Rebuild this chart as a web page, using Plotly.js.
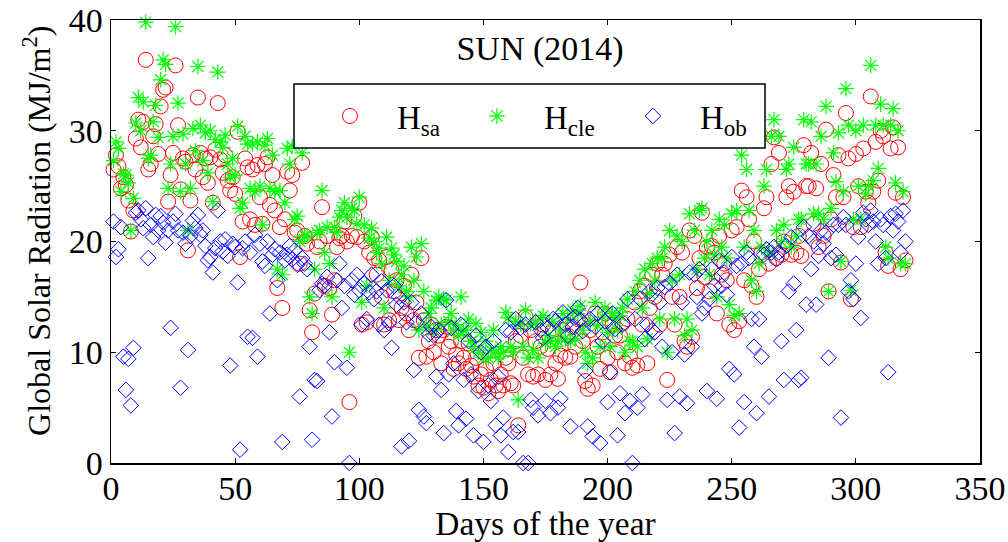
<!DOCTYPE html>
<html>
<head>
<meta charset="utf-8">
<script src="https://cdn.plot.ly/plotly-3.0.1.min.js"></script>
<style>html,body{margin:0;padding:0;background:#fff;}#chart{width:1008px;height:542px;}</style>
</head>
<body>
<div id="chart"></div>
<script>
var days = [1,2,3,4,5,6,7,8,9,10,11,12,13,14,15,16,17,18,19,20,21,22,23,24,25,26,27,28,29,30,31,32,33,34,35,36,37,38,39,40,41,42,43,44,45,46,47,48,49,50,51,52,53,54,55,56,57,58,59,60,61,62,63,64,65,66,67,68,69,70,71,72,73,74,75,76,77,78,79,80,81,82,83,84,85,86,87,88,89,90,91,92,93,94,95,96,97,98,99,100,101,102,103,104,105,106,107,108,109,110,111,112,113,114,115,116,117,118,119,120,121,122,123,124,125,126,127,128,129,130,131,132,133,134,135,136,137,138,139,140,141,142,143,144,145,146,147,148,149,150,151,152,153,154,155,156,157,158,159,160,161,162,163,164,165,166,167,168,169,170,171,172,173,174,175,176,177,178,179,180,181,182,183,184,185,186,187,188,189,190,191,192,193,194,195,196,197,198,199,200,201,202,203,204,205,206,207,208,209,210,211,212,213,214,215,216,217,218,219,220,221,222,223,224,225,226,227,228,229,230,231,232,233,234,235,236,237,238,239,240,241,242,243,244,245,246,247,248,249,250,251,252,253,254,255,256,257,258,259,260,261,262,263,264,265,266,267,268,269,270,271,272,273,274,275,276,277,278,279,280,281,282,283,284,285,286,287,288,289,290,291,292,293,294,295,296,297,298,299,300,301,302,303,304,305,306,307,308,309,310,311,312,313,314,315,316,317,318,319,320];

var H_sa = [26.5,27.8,26.8,24.8,25.8,25.1,23.7,20.9,22.8,29.3,
31.0,28.5,30.8,36.4,26.5,27.0,29.5,30.6,27.9,32.2,
33.7,33.9,23.6,26.0,28.0,35.9,30.5,24.7,27.5,27.2,
19.2,23.7,27.8,26.5,33.0,28.0,25.8,27.5,25.3,27.6,
23.5,28.3,32.5,27.4,26.2,27.8,25.5,24.6,25.8,24.3,
29.9,18.6,21.8,27.5,26.7,22.0,26.5,21.5,26.9,24.0,
21.6,27.0,27.6,23.3,26.0,22.8,15.8,21.3,14.0,22.0,
26.3,24.6,26.0,20.8,21.0,18.0,27.1,20.5,19.8,13.8,
11.8,15.3,19.5,20.0,23.1,16.0,20.5,15.8,13.4,16.5,
19.5,20.3,20.5,21.8,20.0,5.5,20.5,22.3,20.4,23.5,
12.5,20.0,12.7,19.0,20.4,18.5,17.0,18.3,15.0,12.5,
18.6,12.9,17.4,15.5,16.5,12.9,14.0,16.0,13.5,12.0,
17.0,12.9,14.5,9.5,18.5,12.9,9.6,11.0,12.5,10.0,
12.0,11.5,9.0,12.0,12.3,10.5,11.0,8.5,9.8,9.0,
11.0,9.5,8.5,10.8,8.8,7.8,9.5,7.0,8.0,6.8,
8.5,6.3,7.5,9.0,7.0,6.5,8.0,7.0,9.5,9.0,
7.2,7.0,11.0,3.4,11.5,9.5,13.2,8.0,12.0,7.8,
11.0,8.0,10.5,12.5,7.5,10.3,8.0,12.0,9.0,7.6,
9.7,12.0,9.5,11.5,9.6,12.3,10.5,13.0,16.3,11.0,
7.4,6.7,12.0,7.0,13.5,10.5,8.5,11.8,13.5,9.5,
8.2,12.5,11.5,10.0,11.5,12.6,9.0,13.0,9.6,8.6,
14.5,8.8,15.5,12.5,16.0,9.0,14.0,17.0,15.0,18.0,
12.5,17.0,18.0,7.5,18.8,15.0,12.5,19.5,15.0,19.0,
11.0,10.5,21.0,11.4,20.5,15.8,18.5,22.6,16.8,19.5,
15.5,19.6,19.0,13.5,20.5,17.0,18.0,16.5,12.5,21.0,
12.0,21.3,12.8,24.6,16.5,24.0,22.0,16.0,20.0,15.0,
17.5,19.0,23.0,24.0,18.0,27.0,29.4,18.5,28.0,18.8,
20.0,24.0,25.0,18.8,24.5,19.0,20.5,18.7,28.7,25.0,
25.0,28.0,21.6,24.8,19.5,27.0,20.5,30.1,15.5,22.0,
26.0,24.0,27.8,18.1,24.0,31.6,27.5,14.8,21.3,27.9,
25.0,21.3,28.4,24.5,23.5,33.1,24.5,29.0,25.5,30.0,
29.5,19.0,17.8,28.4,30.3,24.4,28.5,17.5,24.0,18.3];

var H_cle = [27.3,29.0,28.4,24.5,26.1,26.0,25.3,21.0,23.9,30.7,
33.0,30.0,32.6,39.8,27.5,27.8,30.8,32.3,29.4,34.6,
36.4,36.0,24.8,27.0,29.5,39.4,32.5,24.5,29.7,27.0,
21.0,24.8,30.2,28.2,35.8,30.5,27.3,29.8,26.2,30.0,
23.6,29.2,35.3,29.0,28.5,29.6,27.0,25.8,27.5,26.0,
30.4,23.0,23.5,29.5,28.8,24.8,28.8,24.5,29.0,25.0,
21.5,28.7,29.3,24.8,27.8,24.5,17.5,24.6,17.0,23.5,
28.4,27.0,28.6,22.0,22.3,20.0,28.0,20.5,20.5,15.0,
13.5,17.5,20.8,21.0,24.6,19.0,21.3,18.0,15.0,21.3,
20.8,22.2,22.8,23.5,22.2,10.0,23.0,22.8,21.6,24.0,
14.5,21.5,16.0,20.3,21.2,20.0,19.0,19.4,18.0,14.0,
20.4,16.5,19.4,18.8,18.2,16.0,17.0,17.8,15.5,15.0,
19.5,16.5,18.6,12.0,19.8,15.5,12.5,13.5,14.0,12.0,
14.7,15.0,12.5,14.8,14.7,12.8,13.5,12.0,12.5,11.5,
15.0,12.0,12.0,13.0,11.0,10.5,12.6,10.0,11.8,9.5,
11.0,9.5,10.2,12.0,10.0,9.5,10.5,10.0,13.6,13.1,
10.5,10.0,12.8,5.7,12.5,10.5,13.8,9.5,12.5,10.2,
12.6,9.5,13.0,13.3,10.8,11.5,11.0,12.8,10.5,11.0,
12.0,13.5,11.2,13.0,11.0,13.8,11.2,13.5,14.2,12.0,
10.0,9.0,12.8,9.5,14.5,12.4,10.5,13.2,14.0,11.8,
10.5,13.5,13.0,12.0,13.3,14.0,10.0,14.8,11.0,11.0,
15.5,10.5,16.5,14.0,17.5,11.2,15.3,18.0,16.5,18.5,
13.0,18.5,19.5,10.0,21.0,16.5,13.0,20.5,17.0,20.0,
11.5,13.0,22.5,12.0,21.0,17.5,22.8,23.0,18.5,20.0,
17.0,21.0,18.8,15.0,22.0,19.5,21.5,18.5,14.3,22.5,
13.3,22.8,13.5,27.8,19.5,26.5,22.8,16.5,21.0,15.5,
18.0,19.5,25.0,26.5,19.0,29.5,31.0,21.0,29.5,20.0,
21.5,26.5,27.0,19.5,28.5,20.5,22.0,22.0,31.0,27.0,
27.0,30.8,22.5,27.0,22.5,29.5,22.0,32.2,15.5,23.0,
28.0,25.4,29.8,18.2,24.5,33.8,30.5,15.6,22.0,30.0,
25.0,22.0,30.5,24.3,25.0,35.9,25.5,30.5,26.6,32.4,
30.5,19.5,18.5,30.5,32.0,25.3,30.0,18.0,24.5,18.0];

var H_ob = [21.8,18.6,19.3,21.3,9.6,6.6,9.4,5.2,10.4,22.6,
22.8,22.0,21.2,23.0,18.5,21.5,20.4,22.4,21.0,22.3,
21.7,19.9,21.0,12.2,21.8,22.5,21.0,6.8,20.8,19.8,
10.2,20.5,21.9,21.2,22.4,20.6,21.0,19.6,18.3,18.6,
17.2,19.4,22.8,20.0,19.1,20.2,18.7,8.8,19.8,19.5,
16.3,1.2,19.4,20.0,11.4,19.0,11.3,20.6,9.6,19.8,
18.2,17.8,20.0,13.5,18.8,19.3,16.5,19.0,1.9,18.3,
18.8,19.6,18.4,19.2,17.9,6.0,18.5,18.0,17.5,10.5,
2.1,7.5,7.4,15.6,16.2,16.0,16.8,11.8,4.2,9.1,
16.5,18.0,14.0,16.0,8.6,0.0,16.5,15.2,17.0,15.6,
12.5,16.2,13.0,15.4,17.0,14.8,15.5,12.5,16.4,12.0,
15.6,12.6,10.4,16.0,14.3,15.0,1.5,14.5,12.7,2.0,
14.5,8.4,12.7,4.8,13.5,4.2,3.6,11.6,12.3,11.5,
7.8,12.0,6.6,2.7,14.7,8.0,12.2,9.0,4.7,3.4,
12.5,7.5,4.0,11.0,8.0,2.5,11.5,6.5,10.0,1.9,
10.5,7.0,5.6,11.0,3.4,7.8,2.5,4.1,12.0,1.0,
11.8,2.8,13.0,2.8,12.2,0.0,12.5,0.0,5.7,5.0,
12.7,4.3,12.0,11.3,5.6,12.2,4.5,13.0,12.8,5.0,
5.8,13.6,12.5,11.5,3.3,12.3,13.2,14.0,12.9,11.9,
8.3,3.3,13.0,2.4,12.3,13.5,1.8,11.0,12.8,5.5,
8.2,13.5,12.1,2.5,6.3,12.5,4.5,14.8,5.6,0.0,
13.0,5.0,14.8,6.2,11.2,12.5,15.5,12.0,11.8,15.8,
14.5,10.5,15.9,5.7,16.2,10.0,2.7,17.0,6.0,14.5,
9.8,5.4,17.2,10.5,17.0,15.0,17.5,13.5,14.0,6.5,
14.8,17.5,16.0,5.8,18.3,16.0,17.2,15.2,8.5,18.6,
8.0,17.8,3.2,18.0,5.5,19.0,18.5,13.0,10.5,4.5,
13.0,9.6,18.8,19.3,6.0,19.0,19.5,18.4,19.0,11.0,
7.5,19.6,15.5,20.4,16.2,12.0,7.5,7.7,21.3,14.3,
20.5,17.5,20.0,14.3,18.7,21.0,19.8,20.8,9.5,18.5,
21.5,18.8,21.5,4.1,22.2,21.5,15.5,16.5,14.8,18.0,
20.4,13.1,22.6,22.0,21.5,22.8,21.8,20.0,18.0,22.0,
21.5,18.5,8.2,22.3,21.0,22.5,21.8,19.0,22.8,20.0];

var seriesNames = ['H<sub>sa</sub>', 'H<sub>cle</sub>', 'H<sub>ob</sub>'];
var titleText = 'SUN (2014)';
var xTitle = 'Days of the year';
var yTitle = 'Global Solar Radiation (MJ/m<sup>2</sup>)';

var FONT = '"Liberation Serif", "Times New Roman", Times, serif';

var traces = [
  {x: days, y: H_sa, name: seriesNames[0], type: 'scatter', mode: 'markers', cliponaxis: false, legendwidth: 48,
   marker: {symbol: 'circle-open', size: 15, color: '#ff0000', line: {width: 1, color: '#ff0000'}}},
  {x: days, y: H_cle, name: seriesNames[1], type: 'scatter', mode: 'markers', cliponaxis: false, legendwidth: 57,
   marker: {symbol: 'asterisk-open', size: 13, color: '#00ff00', line: {width: 1.2, color: '#00ff00'}}},
  {x: days, y: H_ob, name: seriesNames[2], type: 'scatter', mode: 'markers', cliponaxis: false, legendwidth: 50,
   marker: {symbol: 'diamond-open', size: 12, color: '#0000ff', line: {width: 1, color: '#0000ff'}}}
];

var axisCommon = {
  showgrid: false, zeroline: false, showline: true, linecolor: '#000', linewidth: 1.5,
  mirror: 'ticks', ticks: 'inside', ticklen: 5, tickwidth: 1.2, tickcolor: '#000',
  tickfont: {family: FONT, size: 34, color: '#000'}
};

var layout = {
  width: 1008, height: 542,
  margin: {l: 111, r: 28, t: 20, b: 79, pad: 0},
  paper_bgcolor: '#fff', plot_bgcolor: '#fff',
  font: {family: FONT, color: '#000'},
  title: {text: titleText, font: {family: FONT, size: 34, color: '#000'},
          xref: 'paper', yref: 'paper', x: 0.4937, y: 0.937, xanchor: 'center', yanchor: 'middle'},
  xaxis: Object.assign({}, axisCommon, {range: [0, 350], dtick: 50, tick0: 0, ticklabelstandoff: -5,
          title: {text: xTitle, font: {family: FONT, size: 33.5, color: '#000'}, standoff: 4}}),
  yaxis: Object.assign({}, axisCommon, {range: [0, 40], dtick: 10, tick0: 0}),
  annotations: [
    {text: yTitle, xref: 'paper', yref: 'paper', x: -0.0852, y: 0.5237, xanchor: 'center', yanchor: 'middle',
     textangle: -90, showarrow: false, font: {family: FONT, size: 32, color: '#000'}}
  ],
  shapes: [
    {type: 'rect', xref: 'paper', yref: 'paper', x0: 0.2106, x1: 0.7526, y0: 0.7111, y1: 0.8555,
     layer: 'above', fillcolor: '#fff', line: {color: '#000', width: 1.5}}
  ],
  showlegend: true,
  legend: {orientation: 'h', x: 0.2209, y: 0.7833, xanchor: 'left', yanchor: 'middle',
           bgcolor: 'rgba(0,0,0,0)', borderwidth: 0,
           font: {family: FONT, size: 33, color: '#000'},
           itemwidth: 84, entrywidthmode: 'pixels', valign: 'middle'}
};

Plotly.newPlot('chart', traces, layout, {displayModeBar: false, staticPlot: true});
</script>
</body>
</html>
